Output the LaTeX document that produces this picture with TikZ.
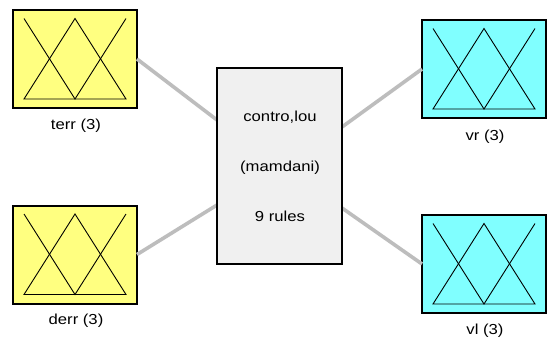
\documentclass[tikz,border=0pt]{standalone}
\usepackage{fontspec}
\setmainfont{Liberation Sans}
\newfontfamily\lblfont[FakeStretch=1.15]{Liberation Sans}
\begin{document}
\begin{tikzpicture}[x=1pt,y=-1pt,
  mfbox/.style={draw=black,line width=2pt,minimum width=124pt,minimum height=98pt,inner sep=0pt,outer sep=0pt},
  inbox/.style={mfbox,fill=yellowin},
  outbox/.style={mfbox,fill=cyanout},
  rulebox/.style={draw=black,line width=1.8pt,fill=rulegray,minimum width=125pt,minimum height=196pt,inner sep=0pt,outer sep=0pt},
  lbl/.style={font=\lblfont\fontsize{14.5}{17}\selectfont,inner sep=0pt},
  link/.style={draw=linkgray,line width=3.6pt},
  tri/.style={draw=black,line width=0.9pt,line join=miter}]
\definecolor{yellowin}{HTML}{FFFF80}
\definecolor{cyanout}{HTML}{80FFFF}
\definecolor{rulegray}{HTML}{F0F0F0}
\definecolor{linkgray}{HTML}{BDBDBD}
\useasboundingbox[fill=white] (0,0) rectangle (549,341);

% input and output membership-function blocks
\node[inbox]  (terr) at (75,59)    {};
\node[inbox]  (derr) at (75,254.5) {};
\node[outbox] (vr)   at (484,69)   {};
\node[outbox] (vl)   at (484,264)  {};
\node[rulebox] (ctrl) at (279.5,166) {};

% connectors to the rule block
\path[link] (terr.east) -- ([yshift=46pt]ctrl.west);
\path[link] (derr.east) -- ([yshift=-39pt]ctrl.west);
\path[link] ([yshift=39pt]ctrl.east) -- (vr.west);
\path[link] ([yshift=-42pt]ctrl.east) -- (vl.west);
\node[rulebox] at (ctrl) {};

% three triangular membership functions per block
\foreach \b in {terr,derr,vr,vl}{
  \draw[tri] ([xshift=11pt,yshift=-8.5pt]\b.north west) -- ([yshift=9pt]\b.south)
             -- ([xshift=-11pt,yshift=-8.5pt]\b.north east);
  \draw[tri] ([xshift=11pt,yshift=9pt]\b.south west) -- ([yshift=-8.5pt]\b.north)
             -- ([xshift=-11pt,yshift=9pt]\b.south east) -- cycle;
}

% block labels
\node[lbl] (terrlbl) at (76,126) {terr (3)};
\node[lbl] (derrlbl) at (76,321) {derr (3)};
\node[lbl] (vrlbl)   at (485,137) {vr (3)};
\node[lbl] (vllbl)   at (485,331) {vl (3)};

% rule block text
\node[lbl] (t1) at (280,117) {contro,lou};
\node[lbl] (t2) at (280,168) {(mamdani)};
\node[lbl] (t3) at (280,216) {9 rules};
\end{tikzpicture}
\end{document}
